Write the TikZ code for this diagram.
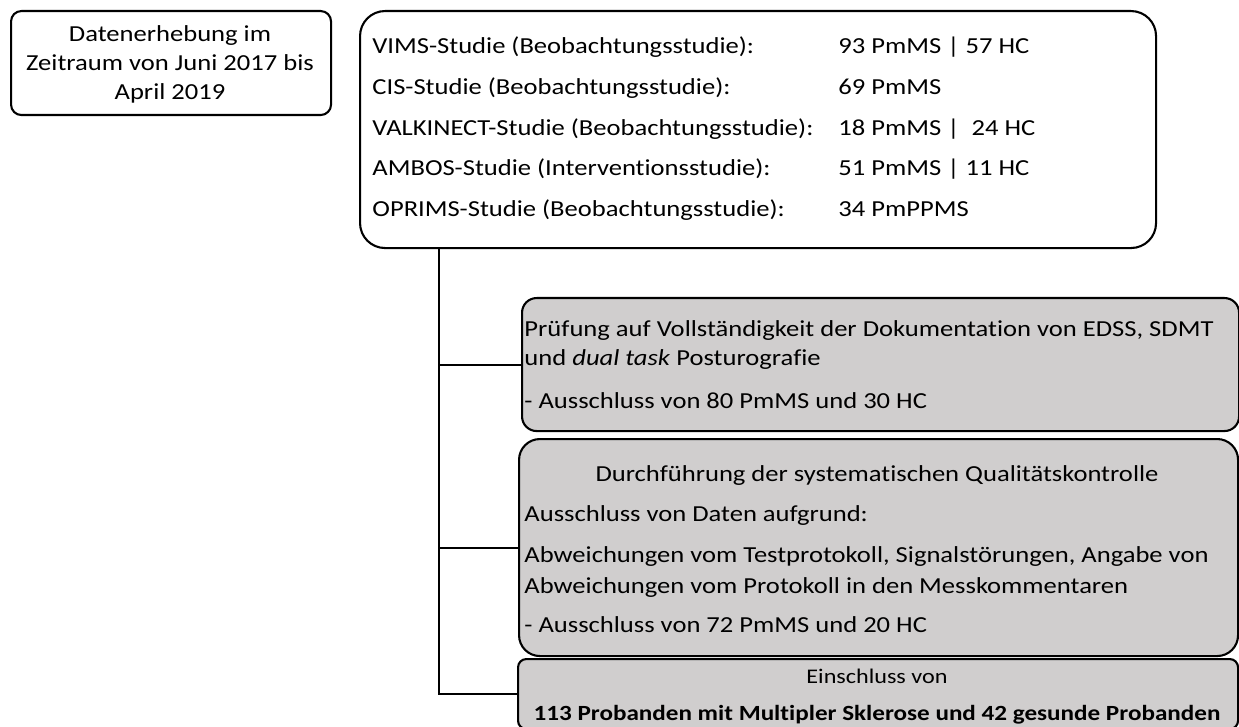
\documentclass[tikz,border=0pt]{standalone}
\usepackage{fontspec}
\setmainfont{Carlito}[FakeStretch=1.16, Ligatures=CommonOff]
\usetikzlibrary{
    calc,
    positioning
}
\definecolor{ink}{RGB}{0,0,0}
\definecolor{stepfill}{RGB}{208,206,206}
\tikzset{
    line cap=round,
    line join=round,
    base box/.style={
        rectangle,
        draw=ink,
        line width=1pt,
        inner sep=0pt,
        anchor=north west
    },
    infobox/.style={base box, fill=white},
    stepbox/.style={base box, fill=stepfill},
    link/.style={
        -,
        draw=ink,
        line width=1pt
    },
    txt/.style={
        inner sep=0pt,
        anchor=base west,
        font=\fontsize{11pt}{13.4pt}\selectfont,
        text=ink
    },
    ctxt/.style={txt, anchor=base},
    smalltxt/.style={ctxt, font=\fontsize{10pt}{12pt}\selectfont},
    boldtxt/.style={ctxt, font=\fontsize{10.4pt}{12.6pt}\selectfont\bfseries}
}

\begin{document}
\begin{tikzpicture}[x=0.48pt, y=-0.48pt]

\useasboundingbox (0,0) rectangle (1239,727);

% Zeitraum
\node[infobox, rounded corners=5pt, minimum width=153.6pt, minimum height=49.92pt] (period) at (10,10) {};
\node[ctxt] (period1) at (170,42) {Datenerhebung im};
\node[ctxt] (period2) at (170,71) {Zeitraum von Juni 2017 bis};
\node[ctxt] (period3) at (170,100) {April 2019};

% Studien
\node[infobox, rounded corners=12pt, minimum width=382.08pt, minimum height=113.76pt] (studies) at (359,10) {};
\node[txt] (vims) at (372,54) {VIMS-Studie (Beobachtungsstudie):};
\node[txt] (vimsn) at (838,54) {93 PmMS | 57 HC};
\node[txt] (cis) at (372,95) {CIS-Studie (Beobachtungsstudie):};
\node[txt] (cisn) at (838,95) {69 PmMS};
\node[txt] (valk) at (372,136) {VALKINECT-Studie (Beobachtungsstudie):};
\node[txt] (valkn) at (838,136) {18 PmMS |\ \ 24 HC};
\node[txt] (ambos) at (372,176) {AMBOS-Studie (Interventionsstudie):};
\node[txt] (ambosn) at (838,176) {51 PmMS | 11 HC};
\node[txt] (oprims) at (372,217) {OPRIMS-Studie (Beobachtungsstudie):};
\node[txt] (oprimsn) at (838,217) {34 PmPPMS};

% Pruefung
\node[stepbox, rounded corners=7pt, minimum width=344.16pt, minimum height=63.84pt] (check) at (521,297) {};
\node[txt] (check1) at (524,337) {Prüfung auf Vollständigkeit der Dokumentation von EDSS, SDMT};
\node[txt] (check2) at (524,366) {und \textit{dual task} Posturografie};
\node[txt] (check3) at (524,408) {- Ausschluss von 80 PmMS und 30 HC};

% Qualitaetskontrolle
\node[stepbox, rounded corners=10pt, minimum width=345.12pt, minimum height=104.16pt] (qc) at (518,438) {};
\node[ctxt] (qc1) at (877,481) {Durchführung der systematischen Qualitätskontrolle};
\node[txt] (qc2) at (524,521) {Ausschluss von Daten aufgrund:};
\node[txt] (qc3) at (524,562) {Abweichungen vom Testprotokoll, Signalstörungen, Angabe von};
\node[txt] (qc4) at (524,593) {Abweichungen vom Protokoll in den Messkommentaren};
\node[txt] (qc5) at (524,632) {- Ausschluss von 72 PmMS und 20 HC};

% Einschluss
\node[stepbox, rounded corners=4pt, minimum width=345.6pt, minimum height=33.6pt] (incl) at (517,658) {};
\node[smalltxt] (incl1) at (877,683) {Einschluss von};
\node[boldtxt] (incl2) at (877,720) {113 Probanden mit Multipler Sklerose und 42 gesunde Probanden};

% Verbindungen
\coordinate (spine) at (studies.south -| 439,0);
\draw[link] (spine) |- (incl.west);
\draw[link] (spine |- check.west) -- (check.west);
\draw[link] (spine |- qc.west) -- (qc.west);

\end{tikzpicture}
\end{document}
